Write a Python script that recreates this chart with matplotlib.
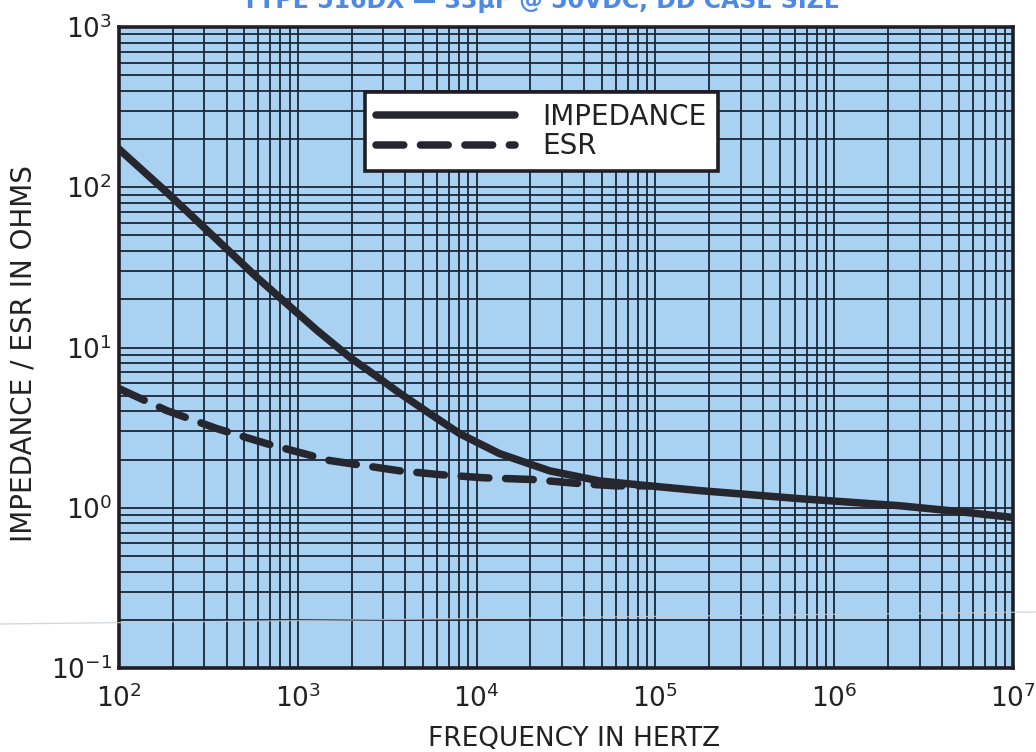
import matplotlib
matplotlib.use("Agg")
import matplotlib.pyplot as plt
from matplotlib.ticker import LogLocator, NullFormatter
from matplotlib.lines import Line2D

# ==============================
# ===== values off the plot ====
# ==============================

# impedance curve (solid)
imp_freq = [100, 185, 590, 1280, 1950, 2870, 3700, 5680, 8040, 13400,
            25600, 48700, 92500, 176000, 637000, 2.31e6, 4.39e6, 1e7]
imp_ohms = [173, 93, 27.4, 12.8, 8.7, 6.4, 5.2, 3.76, 2.9, 2.18,
            1.70, 1.47, 1.37, 1.28, 1.14, 1.03, 0.96, 0.87]

# ESR curve (dashed)
esr_freq = [100, 185, 352, 671, 1510, 3715, 6210, 10800, 20560, 39100, 60500, 92500]
esr_ohms = [5.54, 4.04, 3.12, 2.51, 1.97, 1.70, 1.61, 1.54, 1.50, 1.41, 1.37, 1.37]

decades_x = [1e2, 1e3, 1e4, 1e5, 1e6, 1e7]
labels_x  = [r"$10^{2}$", r"$10^{3}$", r"$10^{4}$", r"$10^{5}$", r"$10^{6}$", r"$10^{7}$"]
decades_y = [1e-1, 1e0, 1e1, 1e2, 1e3]
labels_y  = [r"$10^{-1}$", r"$10^{0}$", r"$10^{1}$", r"$10^{2}$", r"$10^{3}$"]

title = "TYPE 516DX \u2014 33\u00b5F @ 50VDC, DD CASE SIZE"

# ==============================
# =========== style ============
# ==============================

plt.rcParams["font.family"] = "DejaVu Sans"
plt.rcParams["mathtext.default"] = "regular"
plt.rcParams["lines.scale_dashes"] = False

W, H = 1036, 752
paper = "#a9d1f2"
ink   = "#1b2636"
curve = "#26262e"

fig = plt.figure(figsize=(W/100, H/100), dpi=100)
ax = fig.add_axes([119/W, 1-668/H, 894/W, 641/H])
ax.set_facecolor(paper)

ax.loglog(imp_freq, imp_ohms, color=curve, lw=5.4, solid_capstyle="round",
          label="IMPEDANCE", zorder=5)
ax.loglog(esr_freq, esr_ohms, color=curve, lw=5.4, ls=(0, (20, 12)),
          dash_capstyle="round", label="ESR", zorder=5)

ax.set_xlim(1e2, 1e7)
ax.set_ylim(1e-1, 1e3)

# graph-paper grid: every 1..9 of each decade
for a in (ax.xaxis, ax.yaxis):
    a.set_minor_locator(LogLocator(base=10, subs=range(2, 10), numticks=20))
    a.set_minor_formatter(NullFormatter())
ax.grid(which="both", color=ink, lw=1.3)
ax.set_axisbelow(True)

ax.set_xticks(decades_x, labels_x)
ax.set_yticks(decades_y, labels_y)
ax.tick_params(which="both", length=0)
ax.tick_params(axis="x", labelsize=19, pad=12, colors="#222222")
ax.tick_params(axis="y", labelsize=19, pad=5, colors="#222222")

for s in ax.spines.values():
    s.set_linewidth(2.6)
    s.set_color("#1e1e24")

ax.set_xlabel("FREQUENCY IN HERTZ", fontsize=19, color="#222222", va="top")
ax.xaxis.set_label_coords(0.509, -0.091)
ax.set_ylabel("IMPEDANCE / ESR IN OHMS", fontsize=20, color="#222222")
ax.yaxis.set_label_coords(-0.091, 0.49)

leg = ax.legend(loc="upper left", bbox_to_anchor=(0.275, 0.899), borderaxespad=0,
                fontsize=20, handlelength=5.0, handletextpad=1.0, labelspacing=0.05,
                borderpad=0.4, fancybox=False, framealpha=1, edgecolor="#1e1e24",
                facecolor="white")
leg.get_frame().set_linewidth(2.6)
for t in leg.get_texts():
    t.set_color("#222222")

# title runs off the top edge of the scan
fig.text(541/W, 1-8/H, title, ha="center", va="baseline", fontsize=17,
         fontweight="bold", color="#4d8ae6")

# faint scanner streak across the page
fig.add_artist(Line2D([0, 1], [1-624/H, 1-612/H], transform=fig.transFigure,
                      color="#c4cbd4", lw=0.9, alpha=0.8, zorder=10))

fig.savefig("out.png", dpi=100)
